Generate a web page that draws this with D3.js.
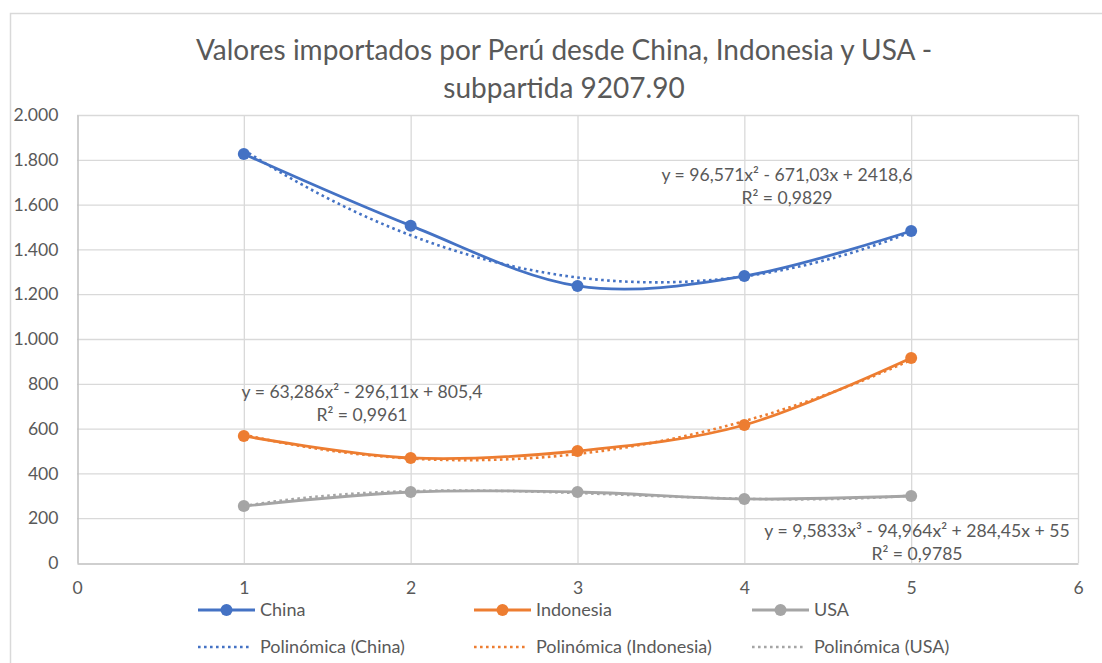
<!DOCTYPE html>
<html>
<head>
<meta charset="utf-8">
<script src="https://cdn.jsdelivr.net/npm/d3@7"></script>
<style>
  html, body { margin: 0; padding: 0; background: #fff; }
  svg { display: block; font-family: Lato, "Open Sans", sans-serif; }
</style>
</head>
<body>
<svg id="chart" width="1102" height="663"></svg>
<script>
// Period index on the x axis
const periods = [1, 2, 3, 4, 5];

// Imported values (thousands) per origin
const china     = [1826, 1506, 1237, 1281, 1482];
const indonesia = [567, 469, 500, 616, 915];
const usa       = [254, 317, 317, 286, 299];

// Polynomial trendline coefficients, highest power first
const chinaTrend     = [96.571, -671.03, 2418.6];
const indonesiaTrend = [63.286, -296.11, 805.4];
const usaTrend       = [9.5833, -94.964, 284.45, 55];

// Coefficients of determination
const chinaR2 = 0.9829, indonesiaR2 = 0.9961, usaR2 = 0.9785;

const yTicks = [0, 200, 400, 600, 800, 1000, 1200, 1400, 1600, 1800, 2000];
const xTicks = [0, 1, 2, 3, 4, 5, 6];

const seriesNames = ["China", "Indonesia", "USA"];
const colors = ["#4472C4", "#ED7D31", "#A5A5A5"];

const titleLines = ["Valores importados por Perú desde China, Indonesia y USA -", "subpartida 9207.90"];

const series = [
  { name: seriesNames[0], values: china, trend: chinaTrend, r2: chinaR2, color: colors[0] },
  { name: seriesNames[1], values: indonesia, trend: indonesiaTrend, r2: indonesiaR2, color: colors[1] },
  { name: seriesNames[2], values: usa, trend: usaTrend, r2: usaR2, color: colors[2] }
];

const svg = d3.select("#chart");
const W = 1102, H = 663;
const plot = { left: 77, right: 1078, top: 115, bottom: 563 };
const textColor = "#595959";

const x = d3.scaleLinear().domain([0, 6]).range([plot.left, plot.right]);
const y = d3.scaleLinear().domain([0, 2000]).range([plot.bottom, plot.top]);

const loc = d3.formatLocale({ decimal: ",", thousands: ".", grouping: [3], currency: ["", ""] });
const fmtY = loc.format(",d");
const fmtNum = v => String(v).replace(".", ",");

// Chart border
svg.append("rect")
  .attr("x", 10.5).attr("y", 13.5)
  .attr("width", W + 20).attr("height", H + 20)
  .attr("fill", "#fff").attr("stroke", "#d9d9d9").attr("stroke-width", 1.5);

// Title
svg.append("text")
  .attr("text-anchor", "middle")
  .attr("font-size", 28).attr("fill", textColor)
  .selectAll("tspan").data(titleLines).join("tspan")
  .attr("x", 564).attr("y", (d, i) => 60 + i * 38)
  .text(d => d);

// Gridlines
const grid = svg.append("g");
grid.selectAll("line.h").data(yTicks.filter(d => d > 0)).join("line")
  .attr("x1", plot.left).attr("x2", plot.right)
  .attr("y1", d => y(d) + 0.5).attr("y2", d => y(d) + 0.5)
  .attr("stroke", "#d9d9d9").attr("stroke-width", 1.3);
grid.selectAll("line.v").data(xTicks.filter(d => d > 0)).join("line")
  .attr("y1", plot.top).attr("y2", plot.bottom)
  .attr("x1", d => x(d) + 0.5).attr("x2", d => x(d) + 0.5)
  .attr("stroke", "#d9d9d9").attr("stroke-width", 1.3);

// Axes
const yAxis = svg.append("g")
  .attr("transform", `translate(${plot.left + 0.5},0)`)
  .call(d3.axisLeft(y).tickValues(yTicks).tickFormat(fmtY).tickSize(0).tickPadding(19));
const xAxis = svg.append("g")
  .attr("transform", `translate(0,${plot.bottom + 0.5})`)
  .call(d3.axisBottom(x).tickValues(xTicks).tickFormat(d3.format("d")).tickSize(0).tickPadding(18));
[yAxis, xAxis].forEach(a => {
  a.select(".domain").attr("stroke", "#bfbfbf").attr("stroke-width", 1.5);
  a.selectAll("text").attr("font-size", 17.6).attr("fill", textColor).attr("font-family", "Lato, sans-serif");
});

// Smoothed series lines
const line = d3.line()
  .x((d, i) => x(periods[i]))
  .y(d => y(d))
  .curve(d3.curveCatmullRom.alpha(0));

const polyEval = (c, t) => c.reduce((acc, k) => acc * t + k, 0);
const trendSamples = d3.range(periods[0], periods[periods.length - 1] + 0.001, 0.05);
const trendLine = d3.line()
  .x(d => x(d[0]))
  .y(d => y(d[1]));

const marks = svg.append("g");
series.forEach(s => {
  const g = marks.append("g");
  g.append("path")
    .attr("d", line(s.values))
    .attr("fill", "none").attr("stroke", s.color).attr("stroke-width", 2.8)
    .attr("stroke-linejoin", "round");
  g.selectAll("circle").data(s.values).join("circle")
    .attr("cx", (d, i) => x(periods[i])).attr("cy", d => y(d))
    .attr("r", 6).attr("fill", s.color);
  g.append("path")
    .attr("d", trendLine(trendSamples.map(t => [t, polyEval(s.trend, t)])))
    .attr("fill", "none").attr("stroke", s.color).attr("stroke-width", 2.6)
    .attr("stroke-dasharray", "2.6,3.4");
});

// Trendline equation labels
const supers = ["", "", "²", "³"];
function equation(c) {
  const n = c.length - 1;
  let txt = "y = ";
  c.forEach((k, i) => {
    const p = n - i;
    const abs = fmtNum(Math.abs(k));
    const term = abs + (p >= 1 ? "x" : "") + (p >= 2 ? supers[p] : "");
    if (i === 0) txt += (k < 0 ? "-" : "") + term;
    else txt += (k < 0 ? " - " : " + ") + term;
  });
  return txt;
}
const labelPos = [
  { cx: 787, y1: 181 },
  { cx: 362, y1: 398 },
  { cx: 917, y1: 537 }
];
series.forEach((s, i) => {
  const t = svg.append("text")
    .attr("text-anchor", "middle").attr("font-size", 17.6).attr("fill", textColor);
  t.append("tspan").attr("x", labelPos[i].cx).attr("y", labelPos[i].y1).text(equation(s.trend));
  t.append("tspan").attr("x", labelPos[i].cx).attr("y", labelPos[i].y1 + 23).text("R² = " + fmtNum(s.r2));
});

// Legend
const legendX = [198, 474, 752];
const legend = svg.append("g");
series.forEach((s, i) => {
  const lx = legendX[i];
  legend.append("line")
    .attr("x1", lx).attr("x2", lx + 57).attr("y1", 610).attr("y2", 610)
    .attr("stroke", s.color).attr("stroke-width", 2.8);
  legend.append("circle").attr("cx", lx + 28.5).attr("cy", 610).attr("r", 6).attr("fill", s.color);
  legend.append("text").attr("x", lx + 62).attr("y", 616)
    .attr("font-size", 18).attr("fill", textColor).text(s.name);
  legend.append("line")
    .attr("x1", lx).attr("x2", lx + 54).attr("y1", 647).attr("y2", 647)
    .attr("stroke", s.color).attr("stroke-width", 2.6).attr("stroke-dasharray", "2.6,3.4");
  legend.append("text").attr("x", lx + 62).attr("y", 653)
    .attr("font-size", 18).attr("fill", textColor).text("Polinómica (" + s.name + ")");
});
</script>
</body>
</html>
